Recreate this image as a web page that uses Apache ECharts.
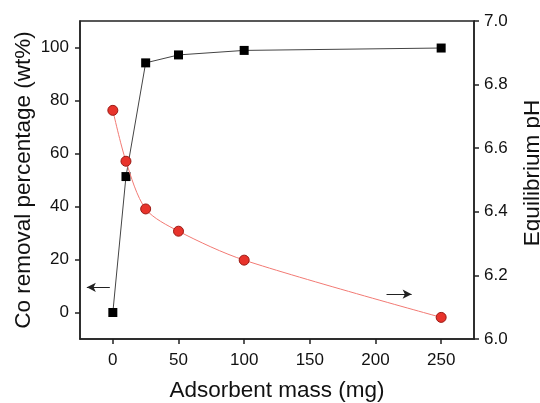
<!DOCTYPE html>
<html>
<head>
<meta charset="utf-8">
<script src="https://cdn.jsdelivr.net/npm/echarts@6/dist/echarts.min.js"></script>
<style>html,body{margin:0;padding:0;background:#fff}#c{width:540px;height:403px}</style>
</head>
<body>
<div id="c"></div>
<script>
var massMg = [0, 10, 25, 50, 100, 250];
var coRemoval = [0, 51.3, 94.2, 97.2, 98.9, 99.8];
var eqPH = [6.719, 6.559, 6.409, 6.339, 6.248, 6.068];
var xTicks = [0, 50, 100, 150, 200, 250];
var leftTicks = [0, 20, 40, 60, 80, 100];
var leftArrow = [[-2.3, 9.5], [-19.8, 9.5]];
var rightArrow = [[208.4, 6.141], [227.5, 6.141]];

var font = 'Liberation Sans, Arial, sans-serif';
var chart = echarts.init(document.getElementById('c'));
var axisLine = {show: true, onZero: false, lineStyle: {color: '#222', width: 1.5}};
var axisTick = {show: true, inside: false, length: 5, lineStyle: {color: '#222', width: 1.5}};
chart.setOption({
  animation: false,
  grid: {left: 80, right: 66, top: 21, bottom: 64, containLabel: false, outerBoundsMode: 'none',
    show: true, borderColor: '#222', borderWidth: 1.5},
  xAxis: {
    type: 'value', min: -25, max: 275,
    name: 'Adsorbent mass (mg)', nameLocation: 'middle', nameGap: 40, nameMoveOverlap: false,
    nameTextStyle: {fontFamily: font, fontSize: 22.5, color: '#111'},
    axisLine: axisLine,
    axisTick: Object.assign({customValues: xTicks}, axisTick),
    axisLabel: {customValues: xTicks, fontFamily: font, fontSize: 17, color: '#111', margin: 13},
    splitLine: {show: false}
  },
  yAxis: [{
    type: 'value', min: -10, max: 110, position: 'left',
    name: 'Co removal percentage (wt%)', nameLocation: 'middle', nameGap: 45, nameMoveOverlap: false,
    nameTextStyle: {fontFamily: font, fontSize: 22.5, color: '#111'},
    axisLine: axisLine,
    axisTick: Object.assign({customValues: leftTicks}, axisTick),
    axisLabel: {customValues: leftTicks, fontFamily: font, fontSize: 17, color: '#111', margin: 11},
    splitLine: {show: false}
  }, {
    type: 'value', min: 6, max: 7, interval: 0.2, position: 'right',
    name: 'Equilibrium pH', nameLocation: 'middle', nameGap: 47, nameMoveOverlap: false,
    nameTextStyle: {fontFamily: font, fontSize: 22.5, color: '#111', padding: [0, 0, 0, 14]},
    axisLine: axisLine, axisTick: axisTick,
    axisLabel: {fontFamily: font, fontSize: 17, color: '#111', margin: 10,
      formatter: function (v) { return v.toFixed(1); }},
    splitLine: {show: false}
  }],
  series: [{
    type: 'line', yAxisIndex: 0,
    data: massMg.map(function (m, i) { return [m, coRemoval[i]]; }),
    symbol: 'rect', symbolSize: 9,
    itemStyle: {color: '#000'},
    lineStyle: {color: '#444', width: 1},
    markLine: {
      silent: true, symbol: ['none', 'arrow'], symbolSize: [7, 9],
      label: {show: false},
      lineStyle: {color: '#222', width: 1, type: 'solid'},
      data: [[{coord: leftArrow[0]}, {coord: leftArrow[1]}]]
    },
    z: 3
  }, {
    type: 'line', yAxisIndex: 1,
    data: massMg.map(function (m, i) { return [m, eqPH[i]]; }),
    symbol: 'circle', symbolSize: 10, smooth: 0.3,
    itemStyle: {color: '#e8332b', borderColor: '#9a1a14', borderWidth: 1},
    lineStyle: {color: '#f27a74', width: 1},
    markLine: {
      silent: true, symbol: ['none', 'arrow'], symbolSize: [7, 9],
      label: {show: false},
      lineStyle: {color: '#222', width: 1, type: 'solid'},
      data: [[{coord: rightArrow[0]}, {coord: rightArrow[1]}]]
    },
    z: 4
  }]
});
</script>
</body>
</html>
